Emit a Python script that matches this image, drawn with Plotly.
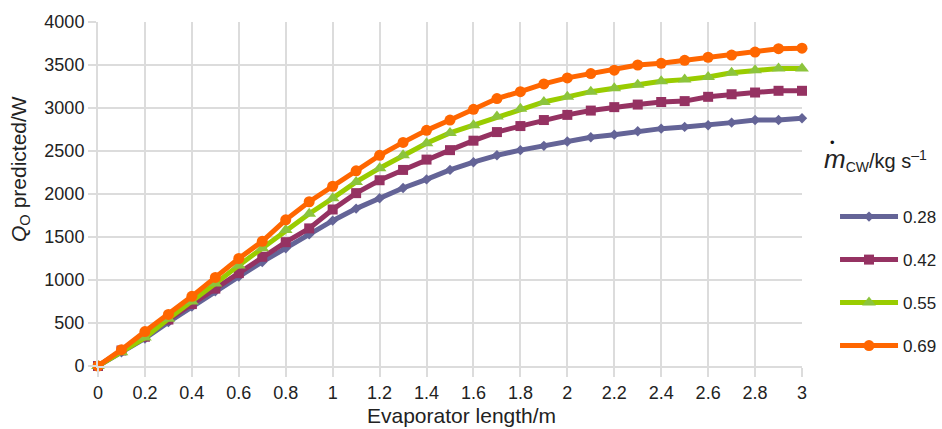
import plotly.graph_objects as go

# Evaporator length (m)
length_m = [0.0, 0.1, 0.2, 0.3, 0.4, 0.5, 0.6, 0.7, 0.8, 0.9,
            1.0, 1.1, 1.2, 1.3, 1.4, 1.5, 1.6, 1.7, 1.8, 1.9,
            2.0, 2.1, 2.2, 2.3, 2.4, 2.5, 2.6, 2.7, 2.8, 2.9, 3.0]

# Predicted heat output Q_O (W) for each cooling-water mass flow rate
q_028 = [0, 160, 320, 510, 690, 870, 1040, 1210, 1370, 1530,
         1690, 1830, 1950, 2070, 2170, 2280, 2370, 2450, 2510, 2560,
         2610, 2660, 2690, 2730, 2760, 2780, 2800, 2830, 2860, 2860, 2880]
q_042 = [0, 180, 340, 540, 720, 900, 1080, 1270, 1440, 1600,
         1820, 2010, 2160, 2280, 2400, 2510, 2620, 2720, 2790, 2860,
         2920, 2970, 3010, 3040, 3070, 3080, 3130, 3160, 3180, 3200, 3200]
q_055 = [0, 160, 330, 550, 750, 960, 1170, 1370, 1580, 1770,
         1950, 2140, 2300, 2450, 2590, 2710, 2800, 2900, 2990, 3070,
         3130, 3190, 3230, 3270, 3310, 3330, 3360, 3410, 3440, 3460, 3460]
q_069 = [0, 190, 400, 600, 810, 1030, 1250, 1450, 1700, 1910,
         2090, 2270, 2450, 2600, 2740, 2860, 2985, 3110, 3190, 3280,
         3350, 3400, 3440, 3500, 3520, 3555, 3590, 3615, 3650, 3690, 3695]

flow_labels = ["0.28", "0.42", "0.55", "0.69"]
series = [q_028, q_042, q_055, q_069]
line_colors = ["#646497", "#953262", "#99CC00", "#FF6600"]
marker_colors = ["#646497", "#953262", "#8CC43C", "#FF6600"]
symbols = ["diamond", "square", "triangle-up", "circle"]
marker_sizes = [8, 10, 12, 11]

FONT = "Liberation Sans, Arial, Helvetica, sans-serif"
TEXT = "#222222"
GRID = "#DCDCDC"

fig = go.Figure()
legend_ids = ["legend", "legend2", "legend3", "legend4"]
for i, (lab, ys) in enumerate(zip(flow_labels, series)):
    fig.add_trace(go.Scatter(
        x=length_m, y=ys, name=lab, mode="lines+markers",
        line=dict(color=line_colors[i], width=5),
        marker=dict(symbol=symbols[i], size=marker_sizes[i], color=marker_colors[i],
                    line=dict(width=0)),
        cliponaxis=False,
        legend=legend_ids[i],
    ))

# one single-entry legend per series so the entries sit at fixed heights
legend_y = [0.433, 0.308, 0.183, 0.058]
layout_legends = {}
for lid, ly in zip(legend_ids, legend_y):
    layout_legends[lid] = dict(
        x=1.0469, y=ly, xanchor="left", yanchor="middle",
        bgcolor="rgba(0,0,0,0)", borderwidth=0, itemwidth=58,
        font=dict(family=FONT, size=17, color=TEXT),
    )

fig.update_layout(
    width=942, height=429,
    margin=dict(l=98, r=140, t=22, b=63, autoexpand=False),
    paper_bgcolor="white", plot_bgcolor="white",
    font=dict(family=FONT, size=18, color=TEXT),
    showlegend=True,
    **layout_legends,
    xaxis=dict(
        range=[0, 3], dtick=0.2, tick0=0,
        showgrid=True, gridcolor=GRID, gridwidth=2,
        showline=True, linecolor=GRID, linewidth=2,
        ticks="outside", ticklen=9, tickwidth=2, tickcolor=GRID,
        zeroline=False, automargin=False,
        tickfont=dict(family=FONT, size=18, color=TEXT),
    ),
    yaxis=dict(
        range=[0, 4000], dtick=500, tick0=0,
        showgrid=True, gridcolor=GRID, gridwidth=2,
        showline=True, linecolor=GRID, linewidth=2,
        ticks="outside", ticklen=8, tickwidth=2, tickcolor=GRID,
        zeroline=False, automargin=False,
        tickfont=dict(family=FONT, size=18, color=TEXT),
    ),
)

# axis titles
fig.add_annotation(
    xref="paper", yref="paper", x=0.517, y=-0.1453, xanchor="center", yanchor="middle",
    showarrow=False, text="Evaporator length/m",
    font=dict(family=FONT, size=21, color=TEXT),
)
fig.add_annotation(
    xref="paper", yref="paper", x=-0.1108, y=0.5727, xanchor="center", yanchor="middle",
    showarrow=False, textangle=-90, text="<i>Q</i><sub>O</sub> predicted/W",
    font=dict(family=FONT, size=21, color=TEXT),
)

# legend heading: mass flow rate of cooling water
fig.add_annotation(
    xref="paper", yref="paper", x=1.0284, y=0.599, xanchor="left", yanchor="middle",
    showarrow=False,
    text="<i><span style='font-size:26px'>m</span></i><sub>CW</sub>/kg s<sup>\u20131</sup>",
    font=dict(family=FONT, size=20, color=TEXT),
)
fig.add_annotation(
    xref="paper", yref="paper", x=1.043, y=0.651, xanchor="center", yanchor="middle",
    showarrow=False, text="\u2022",
    font=dict(family=FONT, size=13, color="#111111"),
)

fig.write_html("out.html")
